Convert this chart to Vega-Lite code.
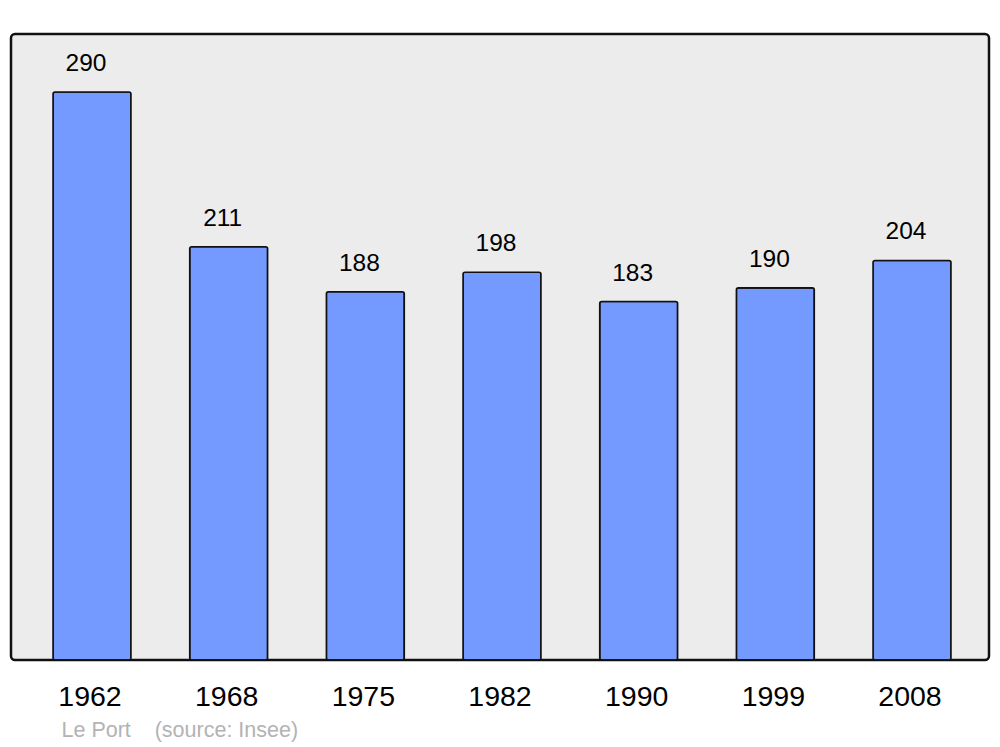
{
  "$schema": "https://vega.github.io/schema/vega-lite/v6.json",
  "width": 978,
  "height": 626,
  "autosize": {"type": "none"},
  "padding": {"left": 11, "top": 34, "right": 11, "bottom": 87},
  "background": "white",
  "config": {
    "view": {"fill": "#ececec", "stroke": "#111111", "strokeWidth": 2.5, "cornerRadius": 4},
    "font": "Liberation Sans"
  },
  "data": {
    "values": [
      {"year": "1962", "pop": 290},
      {"year": "1968", "pop": 211},
      {"year": "1975", "pop": 188},
      {"year": "1982", "pop": 198},
      {"year": "1990", "pop": 183},
      {"year": "1999", "pop": 190},
      {"year": "2008", "pop": 204}
    ]
  },
  "encoding": {
    "x": {
      "field": "year", "type": "nominal", "sort": null,
      "scale": {"paddingInner": 0.43, "paddingOuter": 0.293, "align": 0.525},
      "axis": {
        "title": "Le Port\u00a0\u00a0\u00a0\u00a0(source: Insee)",
        "titleFont": "Liberation Sans", "titleFontSize": 21.5, "titleFontWeight": "normal",
        "titleColor": "#b3b3b3", "titleAnchor": "start", "titleAlign": "left",
        "titleX": 50, "titleY": 76, "titleBaseline": "alphabetic",
        "labelAngle": 0, "labelFontSize": 28.5, "labelColor": "black", "labelPadding": 22,
        "labelOffset": -2,
        "labelFont": "Liberation Sans",
        "domain": false, "ticks": false, "grid": false
      }
    },
    "y": {
      "field": "pop", "type": "quantitative",
      "scale": {"domain": [0, 319.6], "nice": false, "zero": true},
      "axis": null
    }
  },
  "layer": [
    {
      "mark": {"type": "bar", "fill": "#7499ff", "stroke": "#111111", "strokeWidth": 1.6, "cornerRadius": 2}
    },
    {
      "mark": {"type": "text", "dy": -28, "dx": -6, "fontSize": 24.5, "color": "black", "baseline": "middle", "font": "Liberation Sans"},
      "encoding": {"text": {"field": "pop", "type": "quantitative"}}
    }
  ]
}
